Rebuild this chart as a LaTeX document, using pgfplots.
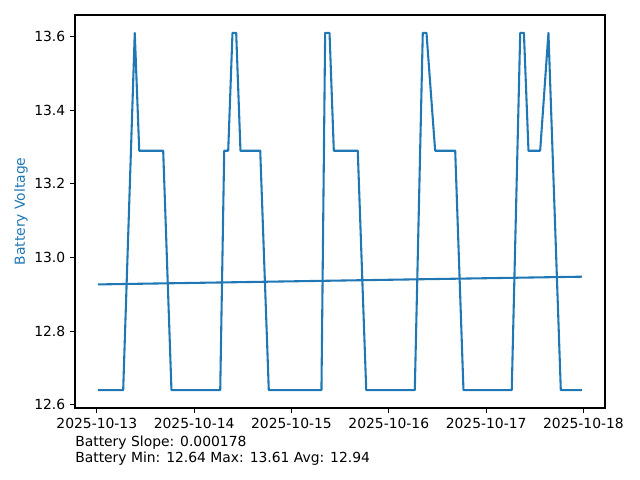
\documentclass[border=0pt]{standalone}
\usepackage{fontspec}
\setmainfont{DejaVu Sans}
\usepackage{pgfplots}
\pgfplotsset{compat=1.18}
\definecolor{mplblue}{RGB}{31,119,180}
\begin{document}
\fontsize{10pt}{12pt}\selectfont
\begin{tikzpicture}
\useasboundingbox (-54pt,-51.84pt) rectangle (406.8pt,293.76pt);
\begin{axis}[
  at={(0,0)}, anchor=south west,
  scale only axis,
  width=381.6pt, height=282.96pt,
  xmin=-0.224, xmax=5.221,
  ymin=12.5915, ymax=13.6585,
  xtick={0,1,2,3,4,5},
  xticklabels={2025-10-13,2025-10-14,2025-10-15,2025-10-16,2025-10-17,2025-10-18},
  ytick={12.6,12.8,13.0,13.2,13.4,13.6},
  yticklabel style={/pgf/number format/.cd,fixed,fixed zerofill,precision=1,assume math mode=true},
  tick align=outside,
  major tick length=3.5pt,
  tick style={black, line width=0.8pt},
  axis line style={line width=0.8pt},
  xtick pos=bottom, ytick pos=left,
  ticklabel style={font=\fontsize{10pt}{12pt}\selectfont},
  ylabel={Battery Voltage},
  ylabel style={at={(axis description cs:-0.1019,0.5)}, anchor=center, color=mplblue, font=\fontsize{10pt}{12pt}\selectfont},
  clip=false,
]
\addplot[color=mplblue, line width=1.5pt, line join=round] coordinates {
(0.010,12.64) (0.271,12.64) (0.390,13.61) (0.436,13.29) (0.682,13.29) (0.767,12.64)
(1.268,12.64) (1.309,13.29) (1.350,13.29) (1.394,13.61) (1.432,13.61) (1.476,13.29)
(1.679,13.29) (1.767,12.64) (2.308,12.64) (2.346,13.61) (2.391,13.61) (2.435,13.29)
(2.681,13.29) (2.768,12.64) (3.267,12.64) (3.349,13.61) (3.387,13.61) (3.476,13.29)
(3.682,13.29) (3.767,12.64) (4.263,12.64) (4.350,13.61) (4.388,13.61) (4.435,13.29)
(4.555,13.29) (4.640,13.61) (4.767,12.64) (4.983,12.64)
};
\addplot[color=mplblue, line width=1.5pt] coordinates {(0.010,12.927) (4.983,12.948)};
\end{axis}
\node[anchor=base west, inner sep=0pt] at (0pt,-27.36pt) {Battery Slope: 0.000178};
\node[anchor=base west, inner sep=0pt] at (0pt,-39.1pt) {Battery Min: 12.64 Max: 13.61 Avg: 12.94};
\end{tikzpicture}
\end{document}
